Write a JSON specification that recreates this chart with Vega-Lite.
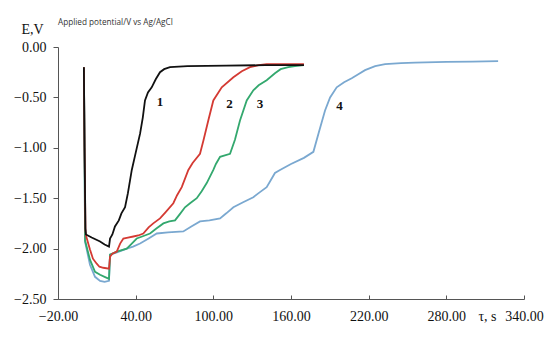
{
  "$schema": "https://vega.github.io/schema/vega-lite/v6.json",
  "width": 466,
  "height": 252,
  "autosize": {"type": "none"},
  "padding": {"left": 58, "top": 47, "right": 26, "bottom": 39},
  "background": "white",
  "title": {"text": "Applied potential/V vs Ag/AgCl", "anchor": "start", "frame": "group", "font": "Open Sans", "fontSize": 8.2, "fontWeight": "normal", "color": "#333", "offset": -13, "baseline": "bottom"},
  "config": {"view": {"stroke": null}},
  "layer": [
    {
      "data": {"values": [
        {"s":"4","t":0,"E":-0.2},{"s":"4","t":0.5,"E":-1.0},{"s":"4","t":0.9,"E":-1.93},{"s":"4","t":4.7,"E":-2.16},{"s":"4","t":8.6,"E":-2.28},{"s":"4","t":12.5,"E":-2.32},{"s":"4","t":16,"E":-2.33},{"s":"4","t":19.4,"E":-2.32},{"s":"4","t":20.2,"E":-2.06},{"s":"4","t":25,"E":-2.04},{"s":"4","t":33.1,"E":-2.0},{"s":"4","t":38,"E":-1.98},{"s":"4","t":43.4,"E":-1.95},{"s":"4","t":50,"E":-1.9},{"s":"4","t":56.3,"E":-1.85},{"s":"4","t":65,"E":-1.84},{"s":"4","t":76.8,"E":-1.83},{"s":"4","t":83,"E":-1.78},{"s":"4","t":89.7,"E":-1.73},{"s":"4","t":97,"E":-1.72},{"s":"4","t":105.2,"E":-1.7},{"s":"4","t":110,"E":-1.65},{"s":"4","t":115.5,"E":-1.59},{"s":"4","t":123,"E":-1.54},{"s":"4","t":130.9,"E":-1.49},{"s":"4","t":136,"E":-1.44},{"s":"4","t":141.2,"E":-1.39},{"s":"4","t":144,"E":-1.33},{"s":"4","t":147.6,"E":-1.25},{"s":"4","t":151.5,"E":-1.22},{"s":"4","t":160,"E":-1.16},{"s":"4","t":170,"E":-1.1},{"s":"4","t":177.3,"E":-1.04},{"s":"4","t":181.2,"E":-0.86},{"s":"4","t":186.3,"E":-0.63},{"s":"4","t":190.2,"E":-0.5},{"s":"4","t":195.3,"E":-0.4},{"s":"4","t":201,"E":-0.35},{"s":"4","t":206.9,"E":-0.31},{"s":"4","t":212,"E":-0.27},{"s":"4","t":217.2,"E":-0.23},{"s":"4","t":225,"E":-0.19},{"s":"4","t":232.7,"E":-0.17},{"s":"4","t":245,"E":-0.16},{"s":"4","t":255.8,"E":-0.155},{"s":"4","t":280,"E":-0.148},{"s":"4","t":300,"E":-0.145},{"s":"4","t":320,"E":-0.14},
        {"s":"3","t":0,"E":-0.2},{"s":"3","t":0.5,"E":-1.0},{"s":"3","t":0.9,"E":-1.92},{"s":"3","t":4.7,"E":-2.11},{"s":"3","t":8.6,"E":-2.23},{"s":"3","t":12.5,"E":-2.26},{"s":"3","t":16,"E":-2.28},{"s":"3","t":19.4,"E":-2.3},{"s":"3","t":20.2,"E":-2.06},{"s":"3","t":25.4,"E":-2.03},{"s":"3","t":33.1,"E":-2.0},{"s":"3","t":37,"E":-1.95},{"s":"3","t":40.8,"E":-1.9},{"s":"3","t":45,"E":-1.88},{"s":"3","t":51.1,"E":-1.85},{"s":"3","t":56,"E":-1.8},{"s":"3","t":61.4,"E":-1.75},{"s":"3","t":66,"E":-1.73},{"s":"3","t":70.4,"E":-1.72},{"s":"3","t":74,"E":-1.66},{"s":"3","t":78.1,"E":-1.59},{"s":"3","t":82,"E":-1.55},{"s":"3","t":87.2,"E":-1.5},{"s":"3","t":91,"E":-1.43},{"s":"3","t":94.9,"E":-1.35},{"s":"3","t":100,"E":-1.22},{"s":"3","t":102,"E":-1.16},{"s":"3","t":105.2,"E":-1.09},{"s":"3","t":112.9,"E":-1.06},{"s":"3","t":116.7,"E":-0.92},{"s":"3","t":120.6,"E":-0.73},{"s":"3","t":125.8,"E":-0.53},{"s":"3","t":130.9,"E":-0.43},{"s":"3","t":135,"E":-0.38},{"s":"3","t":141.2,"E":-0.33},{"s":"3","t":147.6,"E":-0.26},{"s":"3","t":152,"E":-0.22},{"s":"3","t":157.9,"E":-0.2},{"s":"3","t":163,"E":-0.19},{"s":"3","t":170,"E":-0.18},
        {"s":"2","t":0,"E":-0.2},{"s":"2","t":0.5,"E":-1.0},{"s":"2","t":1.2,"E":-1.82},{"s":"2","t":1.6,"E":-1.87},{"s":"2","t":4.7,"E":-2.01},{"s":"2","t":7,"E":-2.1},{"s":"2","t":9.9,"E":-2.15},{"s":"2","t":12,"E":-2.18},{"s":"2","t":15,"E":-2.19},{"s":"2","t":19.4,"E":-2.2},{"s":"2","t":20.2,"E":-2.08},{"s":"2","t":22,"E":-2.05},{"s":"2","t":25.4,"E":-2.03},{"s":"2","t":28,"E":-1.95},{"s":"2","t":30.5,"E":-1.9},{"s":"2","t":34,"E":-1.89},{"s":"2","t":38.2,"E":-1.88},{"s":"2","t":42,"E":-1.87},{"s":"2","t":45.9,"E":-1.85},{"s":"2","t":50,"E":-1.79},{"s":"2","t":53.6,"E":-1.75},{"s":"2","t":58.8,"E":-1.7},{"s":"2","t":63,"E":-1.64},{"s":"2","t":69.1,"E":-1.55},{"s":"2","t":72,"E":-1.47},{"s":"2","t":75.6,"E":-1.39},{"s":"2","t":80.7,"E":-1.22},{"s":"2","t":84,"E":-1.15},{"s":"2","t":89.7,"E":-1.06},{"s":"2","t":92.3,"E":-0.93},{"s":"2","t":96.1,"E":-0.73},{"s":"2","t":100,"E":-0.53},{"s":"2","t":106.5,"E":-0.4},{"s":"2","t":115.5,"E":-0.3},{"s":"2","t":122,"E":-0.24},{"s":"2","t":128.3,"E":-0.2},{"s":"2","t":135,"E":-0.18},{"s":"2","t":141.2,"E":-0.17},{"s":"2","t":155,"E":-0.17},{"s":"2","t":170,"E":-0.17},
        {"s":"1","t":0,"E":-0.2},{"s":"1","t":0.5,"E":-1.0},{"s":"1","t":1.2,"E":-1.8},{"s":"1","t":1.6,"E":-1.86},{"s":"1","t":6,"E":-1.89},{"s":"1","t":12.5,"E":-1.93},{"s":"1","t":16,"E":-1.96},{"s":"1","t":19.4,"E":-1.98},{"s":"1","t":20.2,"E":-1.9},{"s":"1","t":22,"E":-1.86},{"s":"1","t":24,"E":-1.78},{"s":"1","t":27,"E":-1.72},{"s":"1","t":29,"E":-1.65},{"s":"1","t":31.8,"E":-1.59},{"s":"1","t":34,"E":-1.45},{"s":"1","t":37,"E":-1.22},{"s":"1","t":40,"E":-1.05},{"s":"1","t":43.4,"E":-0.86},{"s":"1","t":45.5,"E":-0.7},{"s":"1","t":47.2,"E":-0.53},{"s":"1","t":49.5,"E":-0.45},{"s":"1","t":52.4,"E":-0.4},{"s":"1","t":55.5,"E":-0.32},{"s":"1","t":58.8,"E":-0.25},{"s":"1","t":62,"E":-0.22},{"s":"1","t":66.5,"E":-0.2},{"s":"1","t":80,"E":-0.19},{"s":"1","t":110,"E":-0.185},{"s":"1","t":140,"E":-0.18},{"s":"1","t":170,"E":-0.18}
      ]},
      "mark": {"type": "line", "strokeWidth": 1.8, "interpolate": "linear"},
      "encoding": {
        "x": {"field": "t", "type": "quantitative", "scale": {"domain": [-20, 340], "nice": false, "zero": false},
          "axis": {"values": [-20, 40, 100, 160, 220, 280, 340], "format": ".2f", "grid": false, "title": "τ, s",
            "titleFont": "Liberation Serif", "titleFontSize": 14, "titleFontWeight": "normal", "titleColor": "#111",
            "titleX": 429, "titleY": 17, "titleBaseline": "middle", "titleAlign": "center",
            "labelFont": "Liberation Serif", "labelFontSize": 14, "labelColor": "#111", "labelPadding": 14,
            "domainColor": "#555", "tickColor": "#555", "tickSize": -4, "labelFlush": false, "labelOverlap": false}},
        "y": {"field": "E", "type": "quantitative", "scale": {"domain": [-2.5, 0], "nice": false, "zero": false},
          "axis": {"values": [0, -0.5, -1, -1.5, -2, -2.5], "format": ".2f", "grid": false, "title": "E,V",
            "titleFont": "Liberation Serif", "titleFontSize": 14, "titleFontWeight": "normal", "titleColor": "#111",
            "titleAngle": 0, "titleX": -26, "titleY": -18, "titleBaseline": "middle", "titleAlign": "center",
            "labelFont": "Liberation Serif", "labelFontSize": 14, "labelColor": "#111", "labelPadding": 7,
            "domainColor": "#555", "tickColor": "#555", "tickSize": 5, "labelFlush": false, "labelOverlap": false}},
        "color": {"field": "s", "type": "nominal", "legend": null,
          "scale": {"domain": ["1", "2", "3", "4"], "range": ["#111111", "#d43a33", "#33a86e", "#7aa8d0"]}},
        "order": {"field": "t", "type": "quantitative"}
      }
    },
    {
      "data": {"values": [
        {"lab": "1", "t": 58.8, "E": -0.55},
        {"lab": "2", "t": 112.4, "E": -0.57},
        {"lab": "3", "t": 136, "E": -0.57},
        {"lab": "4", "t": 197.4, "E": -0.59}
      ]},
      "mark": {"type": "text", "font": "Liberation Serif", "fontSize": 13, "fontWeight": "bold", "color": "#111", "baseline": "middle", "align": "center"},
      "encoding": {
        "x": {"field": "t", "type": "quantitative"},
        "y": {"field": "E", "type": "quantitative"},
        "text": {"field": "lab"}
      }
    }
  ]
}
